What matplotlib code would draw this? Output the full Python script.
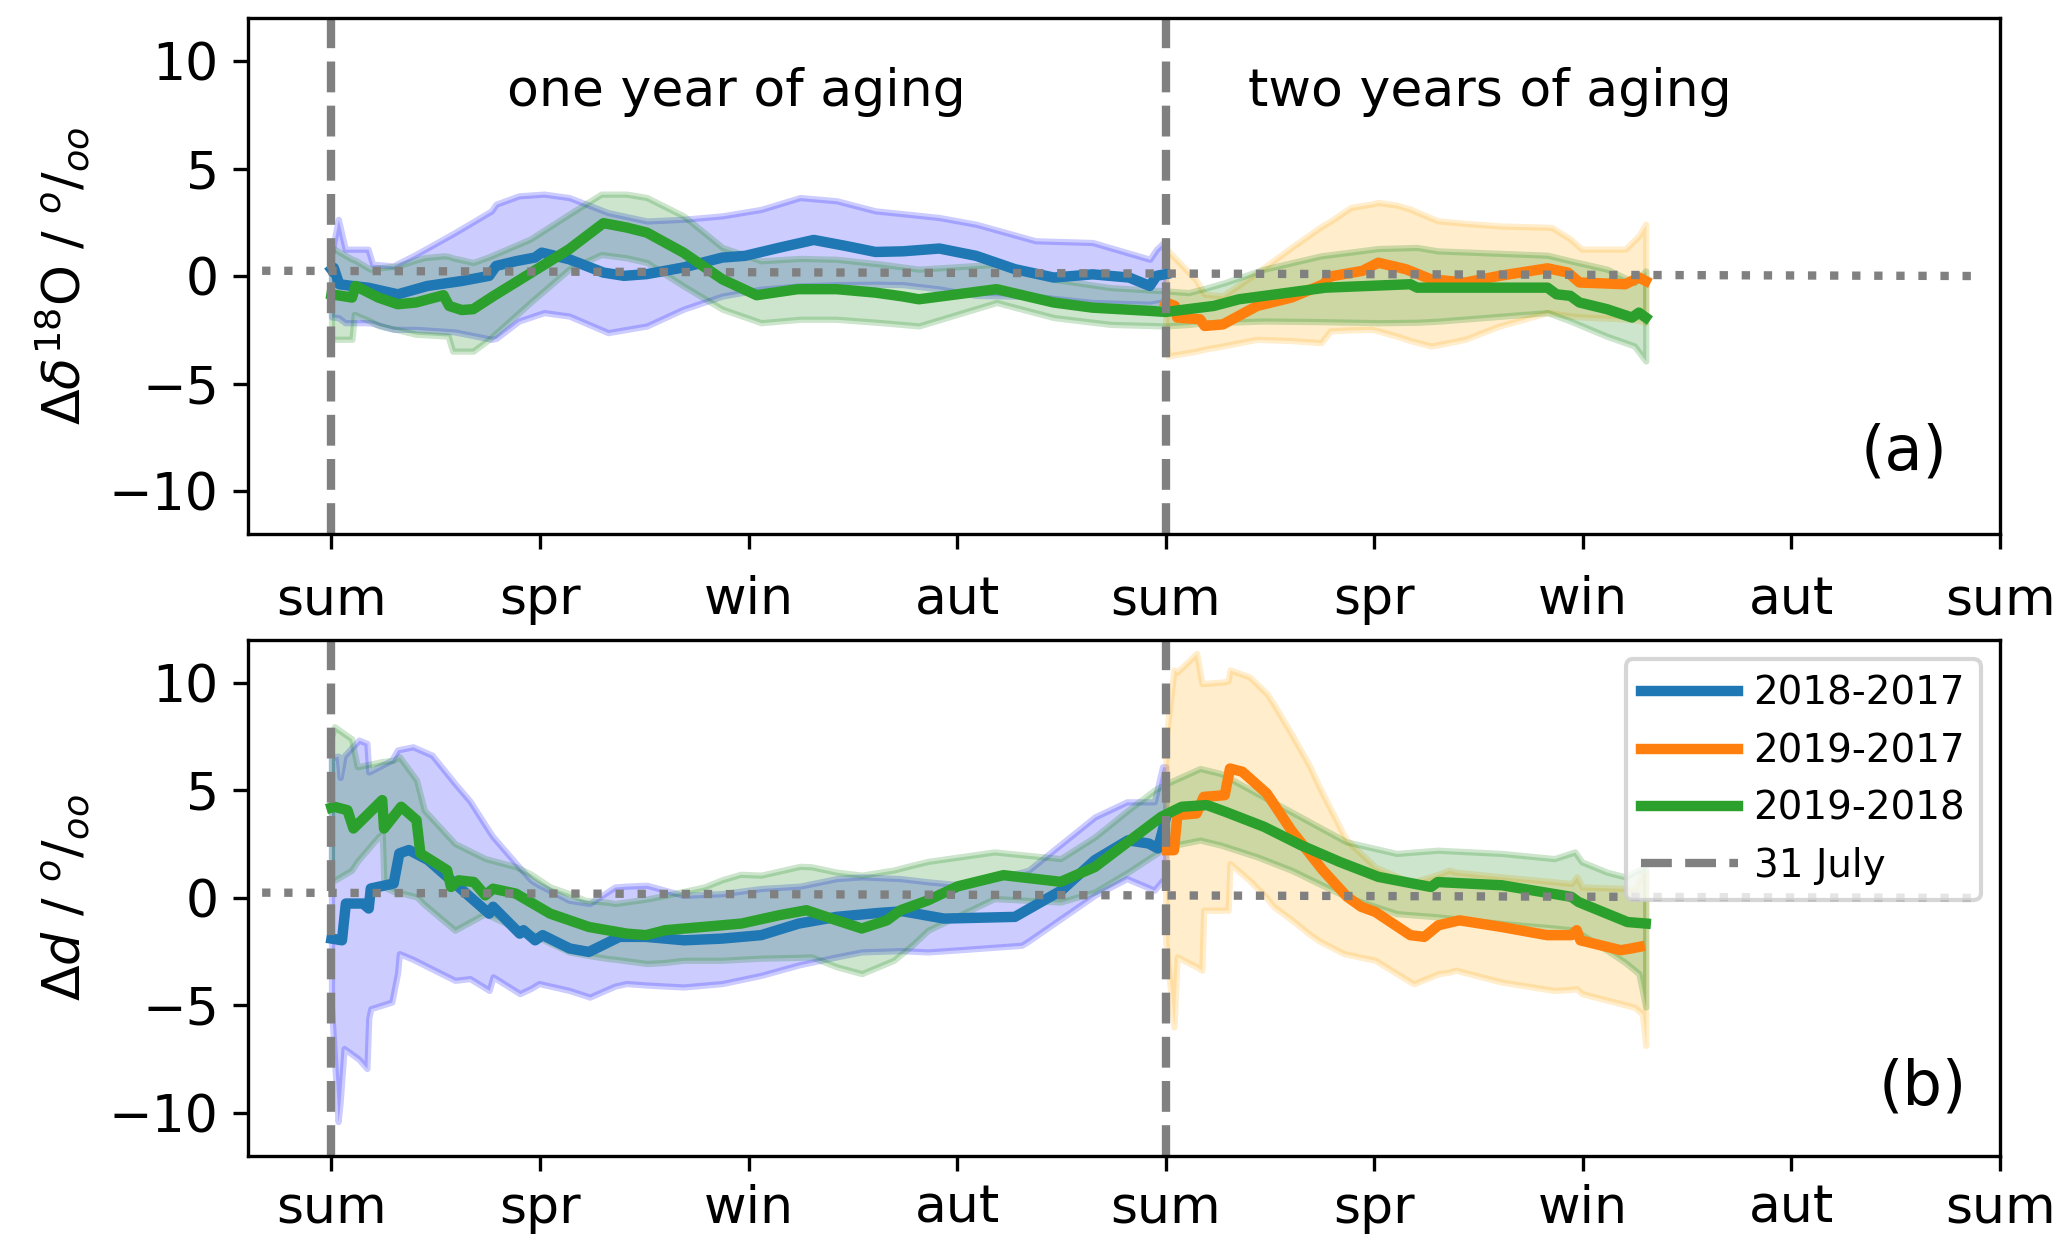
import numpy as np
import matplotlib
matplotlib.use('Agg')
import matplotlib.pyplot as plt

# x axis: days since 31 July of the first year
season_ticks = [0, 91.25, 182.5, 273.75, 365, 456.25, 547.5, 638.75, 730]
season_labels = ['sum', 'spr', 'win', 'aut', 'sum', 'spr', 'win', 'aut', 'sum']
july31_days = [0, 365]
zero_ref_x = [-40, 723]
zero_ref_y = [0.25, 0.0]

# ---- panel (a): delta 18O ----
o18_blue_day = [0, 1, 3.4, 9, 16, 29, 42, 57, 69, 72, 81, 89, 92, 104, 119, 128, 138, 154, 171, 181, 196,
                211, 225, 238, 250, 266, 282, 299, 316, 333, 349, 358, 361, 365]
o18_blue = [0.3, 0.38, -0.38, -0.46, -0.54, -0.85, -0.46, -0.23, 0.01, 0.47, 0.70, 0.86, 1.09, 0.78, 0.16,
            0.01, 0.09, 0.40, 0.86, 0.94, 1.32, 1.68, 1.40, 1.12, 1.15, 1.28, 0.94, 0.32, -0.07, 0.08, -0.07,
            -0.46, 0.01, 0.09]
o18_blue_band_day = [0, 3, 6, 16, 18, 27, 37, 54, 70, 72, 82, 93, 104, 121, 138, 154, 171, 188, 205, 221,
                     238, 250, 266, 282, 308, 333, 358, 361, 365]
o18_blue_lo = [-1.9, -1.93, -2.17, -2.17, -2.2, -2.48, -2.48, -2.6, -2.94, -2.9, -2.09, -1.70, -1.86, -2.63,
               -2.32, -1.54, -0.93, -0.61, -0.46, -0.40, -0.38, -0.40, -0.60, -0.90, -0.95, -1.23, -1.31,
               -1.25, -1.20]
o18_blue_hi = [1.0, 2.64, 1.25, 1.25, 0.55, 0.47, 1.01, 2.02, 3.03, 3.34, 3.73, 3.81, 3.65, 2.95, 2.56, 2.64,
               2.80, 3.10, 3.65, 3.50, 3.03, 2.90, 2.72, 2.41, 1.64, 1.56, 0.78, 1.25, 1.64]

o18_orange_day = [365, 369, 370, 380, 382, 390, 405, 420, 434, 437, 451, 458, 470, 481, 496, 511, 532, 541,
                  546, 566, 572, 575]
o18_orange = [-1.23, -1.39, -1.93, -2.01, -2.32, -2.25, -1.39, -1.0, -0.38, -0.02, 0.24, 0.62, 0.32, -0.15,
              -0.30, 0.01, 0.36, 0.16, -0.30, -0.38, -0.07, -0.23]
o18_orange_band_day = [365, 366, 378, 382, 390, 405, 420, 433, 437, 446, 455, 458, 466, 472, 481, 484, 496,
                       511, 532, 534, 542, 547, 566, 572, 575]
o18_orange_lo = [-3.0, -3.72, -3.5, -3.4, -3.25, -2.94, -3.0, -3.1, -2.55, -2.5, -2.48, -2.55, -2.79, -3.0,
                 -3.25, -3.2, -2.94, -2.32, -1.70, -1.72, -1.86, -1.9, -2.0, -2.05, -2.17]
o18_orange_hi = [1.0, 1.17, -0.15, -0.85, -0.92, 0.16, 1.33, 2.3, 2.55, 3.19, 3.35, 3.42, 3.3, 3.11, 2.7, 2.57,
                 2.45, 2.33, 2.27, 2.25, 1.72, 1.25, 1.25, 1.87, 2.41]

o18_green_day = [0, 9, 10.5, 20.5, 29, 37, 49, 51.5, 57, 62, 71, 84, 104, 119, 129, 138, 154, 171, 186, 204,
                 221, 238, 250, 257, 291, 316, 333, 358, 365, 386, 397, 435, 472, 475, 532, 536, 542, 546,
                 558, 569, 572, 575]
o18_green = [-0.85, -1.0, -0.46, -1.0, -1.31, -1.23, -0.89, -1.39, -1.58, -1.54, -0.92, -0.07, 1.25, 2.46,
             2.26, 2.02, 1.09, -0.15, -0.89, -0.61, -0.61, -0.77, -0.95, -1.08, -0.61, -1.23, -1.47, -1.62,
             -1.67, -1.39, -1.08, -0.54, -0.38, -0.54, -0.54, -0.85, -0.92, -1.23, -1.54, -1.93, -1.70, -1.93]
o18_green_band_day = [0, 9, 10, 17, 21, 29, 37, 41, 49, 51, 53, 62, 69, 87, 104, 118, 129, 138, 154, 171, 188,
                      205, 221, 241, 257, 291, 316, 341, 365, 375, 383, 391, 408, 433, 458, 475, 484, 532,
                      542, 558, 570, 575]
o18_green_lo = [-2.94, -2.94, -1.78, -2.1, -2.32, -2.5, -2.71, -2.73, -2.78, -2.79, -3.49, -3.49, -2.94, -1.23,
                0.32, 1.0, 0.85, 0.63, -0.46, -1.54, -2.17, -2.01, -2.01, -2.17, -2.32, -1.23, -1.93, -2.25,
                -2.32, -2.25, -2.17, -2.15, -2.09, -2.12, -2.17, -2.15, -2.1, -1.70, -2.09, -2.8, -3.25, -3.95]
o18_green_hi = [1.33, 0.78, 0.75, 0.32, 0.38, 0.47, 0.75, 0.86, 0.94, 0.92, 0.85, 0.63, 0.9, 1.72, 2.88, 3.81,
                3.81, 3.65, 2.80, 1.33, 0.71, 0.82, 0.78, 0.55, 0.32, 0.55, -0.15, -0.54, -0.69, -0.77, -0.55,
                -0.3, 0.32, 0.94, 1.28, 1.33, 1.17, 0.97, 0.71, 0.32, -0.3, 0.24]

# ---- panel (b): deuterium excess ----
d_blue_day = [0, 4.6, 6.3, 13.8, 16.3, 17.2, 27.2, 29.7, 33.9, 42.3, 54, 60.6, 69, 70.7, 82.4, 84, 89.1, 92.4,
              104.2, 112.6, 126, 137.6, 154.3, 171, 188, 204.5, 221, 239, 250, 268, 299, 319.5, 334, 348.5,
              357.6, 361.6, 365]
d_blue = [-1.89, -1.97, -0.26, -0.26, -0.49, 0.44, 0.67, 2.07, 2.23, 1.76, 0.67, 0.05, -0.73, -0.41, -1.66,
          -1.50, -1.97, -1.73, -2.35, -2.51, -1.81, -1.81, -1.97, -1.89, -1.73, -1.19, -0.88, -0.70, -0.62,
          -0.96, -0.88, 0.36, 1.76, 2.68, 2.53, 2.30, 3.70]
d_blue_band_day = [0, 2.9, 3.8, 5.5, 12, 15.5, 16.3, 17.2, 26.4, 28.9, 29.7, 35.6, 44, 54, 60.6, 69, 70.7,
                   82.4, 87.4, 90.8, 104, 113, 124, 129, 138, 154, 171, 188, 205, 221, 232, 249, 261, 276,
                   302, 305, 334, 348, 360, 363.6, 365]
d_blue_lo = [-5.0, -10.4, -9.5, -7.0, -7.5, -7.93, -5.6, -5.15, -4.84, -3.5, -2.59, -2.85, -3.3, -3.83, -3.75,
             -4.3, -3.67, -4.45, -4.2, -3.98, -4.3, -4.61, -4.1, -3.98, -4.05, -4.14, -3.98, -3.6, -3.1, -2.74,
             -2.51, -2.45, -2.51, -2.4, -2.2, -2.0, 0.13, 0.90, 0.36, 0.82, 0.5]
d_blue_hi = [6.5, 6.6, 5.6, 6.6, 7.34, 7.19, 5.86, 5.9, 6.41, 6.88, 6.9, 7.03, 6.64, 5.32, 4.5, 3.1, 2.84, 1.4,
             0.82, 0.6, -0.11, -0.26, 0.51, 0.55, 0.59, 0.12, 0.2, 0.44, 0.55, 0.9, 0.98, 0.9, 0.75, 0.60,
             1.2, 1.29, 3.77, 4.47, 4.47, 6.1, 6.1]

d_orange_day = [365.6, 368.6, 370.1, 378.5, 381.6, 390.8, 393.1, 398.5, 409.2, 419.9, 433.7, 444.4, 450.5,
                456.7, 472, 478.1, 484.3, 493.5, 511.9, 531.8, 542.5, 544.8, 546.4, 564, 568.6, 572.4]
d_orange = [2.22, 2.22, 3.85, 3.93, 4.70, 4.78, 6.02, 5.87, 4.86, 3.15, 1.29, 0.05, -0.41, -0.65, -1.73, -1.81,
            -1.27, -1.04, -1.35, -1.73, -1.73, -1.50, -1.97, -2.43, -2.35, -2.27]
d_orange_band_day = [365, 368.6, 370, 378.5, 380.8, 381.6, 390.8, 392.3, 393.1, 401.6, 409.2, 412.3, 419.9,
                     427.6, 432.2, 443, 444.4, 456.7, 472, 473.5, 484.3, 488.9, 491.9, 511.9, 534.9, 542.5,
                     544.8, 547.1, 570, 573.5, 575]
d_orange_lo = [-2.0, -6.0, -2.74, -3.2, -3.36, -0.57, -0.57, -0.57, 1.60, 0.82, 0.0, -0.41, -1.0, -1.66, -2.0,
               -2.59, -2.62, -2.9, -3.9, -3.99, -3.52, -3.45, -3.36, -3.91, -4.30, -4.25, -4.22, -4.45, -5.08,
               -5.39, -6.86]
d_orange_hi = [7.3, 10.6, 10.5, 11.37, 9.97, 9.97, 10.05, 10.1, 10.6, 10.28, 9.5, 9.0, 7.64, 6.2, 5.15, 2.9,
               2.67, 1.43, 0.74, 0.75, 1.1, 1.29, 1.2, 0.98, 0.75, 0.67, 0.98, 0.51, 0.43, 1.13, 1.2]

d_green_day = [0, 1.3, 7, 9.6, 22.2, 23, 30.5, 37.2, 38.9, 50.6, 52.3, 55.6, 62.3, 67.3, 70.7, 80.7, 95.7,
               112.6, 129.3, 137.6, 146, 171, 179.4, 196, 207.8, 221, 232, 243, 249, 261, 274, 294, 319, 334,
               348.5, 363, 372, 383, 391, 408, 424, 441, 458, 481, 484, 512, 542.5, 545.6, 567, 575]
d_green = [4.2, 4.24, 4.08, 3.23, 4.55, 3.23, 4.24, 3.62, 2.07, 1.29, 0.51, 0.82, 0.74, 0.12, 0.43, 0.2, -0.73,
           -1.35, -1.66, -1.73, -1.50, -1.27, -1.19, -0.80, -0.57, -1.04, -1.42, -1.04, -0.57, -0.11, 0.54,
           1.06, 0.75, 1.44, 2.61, 3.77, 4.24, 4.32, 4.01, 3.31, 2.46, 1.68, 0.98, 0.51, 0.74, 0.59, 0.05,
           -0.19, -1.12, -1.19]
d_green_band_day = [0, 1.3, 8.8, 11.3, 20.5, 22.2, 23, 27.2, 29.7, 37.2, 40.6, 54, 67.3, 80.7, 87.4, 95.7, 104,
                    111, 121, 124, 138, 146, 154, 163, 171, 179, 188, 205, 210, 221, 232, 246, 254, 261, 290,
                    319, 334, 348.5, 360, 365, 380, 389, 405, 420, 444, 466, 484, 512, 535, 544, 547, 558,
                    566, 572, 575]
d_green_lo = [0.8, 0.82, 1.29, 1.7, 2.84, 3.0, 0.51, 0.3, 0.25, 0.05, -0.3, -1.5, -0.73, -1.4, -1.66, -2.1,
              -2.51, -2.65, -2.82, -2.85, -3.05, -3.0, -2.9, -2.9, -2.9, -2.85, -2.8, -2.76, -2.74, -3.2, -3.52,
              -2.9, -2.2, -1.5, -0.03, -0.19, 0.28, 1.2, 2.0, 2.37, 2.69, 2.46, 1.91, 1.29, 0.05, -0.73, -0.88,
              -1.19, -1.4, -1.5, -1.7, -2.43, -3.0, -3.52, -5.07]
d_green_hi = [7.5, 7.96, 7.4, 6.1, 6.3, 6.35, 6.35, 6.41, 6.57, 5.48, 4.08, 2.53, 1.83, 1.45, 1.1, 0.51, 0.2,
              -0.11, -0.2, -0.26, -0.05, 0.12, 0.3, 0.51, 0.85, 1.1, 1.06, 1.47, 1.45, 1.2, 1.06, 1.3, 1.52,
              1.7, 2.14, 1.83, 2.84, 4.08, 5.01, 5.3, 6.02, 5.79, 4.86, 4.0, 2.61, 2.07, 2.22, 2.07, 1.83,
              2.14, 1.68, 1.2, 0.98, 1.3, 1.45]

FS = 12.5

fig, axes = plt.subplots(2, 1, figsize=(2067 / 300, 1250 / 300), dpi=300)
plt.subplots_adjust(left=0.12, right=0.9676, top=0.9856, bottom=0.0752, hspace=0.205)

panels = [
    dict(blue=(o18_blue_day, o18_blue, o18_blue_band_day, o18_blue_lo, o18_blue_hi),
         orange=(o18_orange_day, o18_orange, o18_orange_band_day, o18_orange_lo, o18_orange_hi),
         green=(o18_green_day, o18_green, o18_green_band_day, o18_green_lo, o18_green_hi),
         ylabel=r'$\Delta\delta^{18}$O / $^o/_{oo}$', tag='(a)', tagpos=(669, -9.0), xpad=6.4),
    dict(blue=(d_blue_day, d_blue, d_blue_band_day, d_blue_lo, d_blue_hi),
         orange=(d_orange_day, d_orange, d_orange_band_day, d_orange_lo, d_orange_hi),
         green=(d_green_day, d_green, d_green_band_day, d_green_lo, d_green_hi),
         ylabel=r'$\Delta d$ / $^o/_{oo}$', tag='(b)', tagpos=(677, -9.6), xpad=3.2),
]

for ax, p in zip(axes, panels):
    # uncertainty bands
    ax.fill_between(p['blue'][2], p['blue'][3], p['blue'][4], color='blue', alpha=0.2, lw=1.5)
    ax.fill_between(p['orange'][2], p['orange'][3], p['orange'][4], color='orange', alpha=0.2, lw=1.5)
    ax.fill_between(p['green'][2], p['green'][3], p['green'][4], color='green', alpha=0.2, lw=1.5)

    ax.plot(p['blue'][0], p['blue'][1], color='C0', lw=2.5, label='2018-2017')
    ax.plot(p['orange'][0], p['orange'][1], color='C1', lw=2.5, label='2019-2017')
    ax.plot(p['green'][0], p['green'][1], color='C2', lw=2.5, label='2019-2018')

    ax.plot(zero_ref_x, zero_ref_y, color='gray', ls=':', lw=2)
    for i, d in enumerate(july31_days):
        ax.axvline(d, color='gray', ls='--', lw=2, label='31 July' if i == 0 else None)

    ax.set_xlim(-36.5, 730)
    ax.set_ylim(-12, 12)
    ax.set_xticks(season_ticks)
    ax.set_xticklabels(season_labels)
    ax.set_yticks([-10, -5, 0, 5, 10])
    ax.tick_params(labelsize=FS)
    ax.tick_params(axis='x', pad=p['xpad'])
    ax.set_ylabel(p['ylabel'], fontsize=FS)
    ax.text(p['tagpos'][0], p['tagpos'][1], p['tag'], fontsize=15)

axes[0].text(77, 7.9, 'one year of aging', fontsize=FS)
axes[0].text(401, 7.9, 'two years of aging', fontsize=FS)

axes[1].legend(loc='upper right', fontsize=9.3, handlelength=2.5, handletextpad=0.4)

plt.savefig('out.png', dpi=300)
